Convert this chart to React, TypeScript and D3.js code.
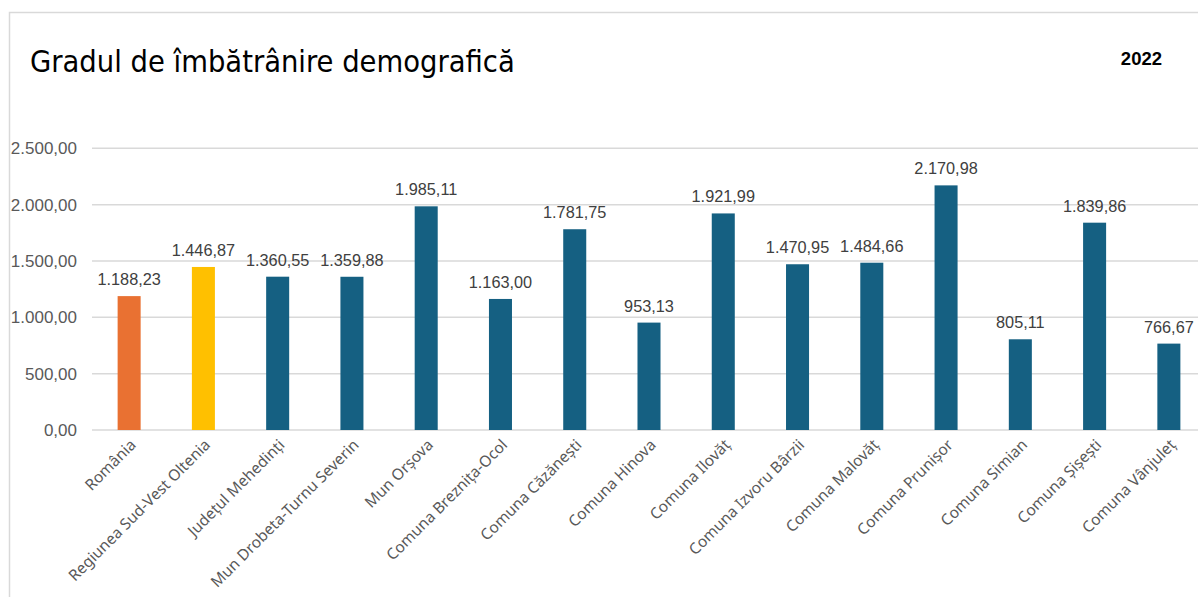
import React from "react";
import * as d3 from "d3";

const categories = [
  "România",
  "Regiunea Sud-Vest Oltenia",
  "Județul Mehedinți",
  "Mun Drobeta-Turnu Severin",
  "Mun Orșova",
  "Comuna Breznița-Ocol",
  "Comuna Căzănești",
  "Comuna Hinova",
  "Comuna Ilovăț",
  "Comuna Izvoru Bârzii",
  "Comuna Malovăț",
  "Comuna Prunișor",
  "Comuna Simian",
  "Comuna Șișești",
  "Comuna Vânjuleț",
];
const values = [
  1188.23, 1446.87, 1360.55, 1359.88, 1985.11, 1163.0, 1781.75, 953.13, 1921.99,
  1470.95, 1484.66, 2170.98, 805.11, 1839.86, 766.67,
];
const barColors = [
  "#E97132", "#FFC000", "#156082", "#156082", "#156082", "#156082", "#156082",
  "#156082", "#156082", "#156082", "#156082", "#156082", "#156082", "#156082", "#156082",
];
const yTicks = [0, 500, 1000, 1500, 2000, 2500];
const title = "Gradul de îmbătrânire demografică";
const yearLabel = "2022";

const W = 1198;
const H = 597;
const plot = { left: 92, right: 1206, top: 148.3, bottom: 430 };

const locale = d3.formatLocale({
  decimal: ",",
  thousands: ".",
  grouping: [3],
  currency: ["", ""],
});
const fmt = locale.format(",.2f");

export default function App() {
  const x = d3
    .scaleBand<string>()
    .domain(categories)
    .range([plot.left, plot.right])
    .paddingInner(0.69)
    .paddingOuter(0.345);
  const y = d3.scaleLinear().domain([0, 2500]).range([plot.bottom, plot.top]);
  const textGray = "#595959";

  return (
    <svg
      width={W}
      height={H}
      style={{ position: "absolute", left: 0, top: 0, background: "#fff" }}
    >
      <rect x={9.5} y={12.5} width={1300} height={700} fill="#fff" stroke="#D9D9D9" strokeWidth={1.5} />
      <text
        x={30}
        y={72}
        fontFamily="'Liberation Sans Narrow', 'DejaVu Sans Condensed', sans-serif"
        fontSize={30.5}
        fill="#000"
      >
        {title}
      </text>
      <text
        x={1162}
        y={65}
        textAnchor="end"
        fontFamily="'Liberation Sans', Arial, sans-serif"
        fontWeight="bold"
        fontSize={18.5}
        fill="#000"
      >
        {yearLabel}
      </text>
      {yTicks.map((t) => (
        <g key={t}>
          <line
            x1={plot.left}
            x2={W}
            y1={y(t)}
            y2={y(t)}
            stroke="#D9D9D9"
            strokeWidth={1.5}
          />
          <text
            x={77}
            y={y(t)}
            dy="0.35em"
            textAnchor="end"
            fontFamily="'Liberation Sans', Arial, sans-serif"
            fontSize={17}
            fill={textGray}
          >
            {fmt(t)}
          </text>
        </g>
      ))}
      {categories.map((c, i) => {
        const bx = x(c)!;
        const bw = x.bandwidth();
        const cx = bx + bw / 2;
        return (
          <g key={c}>
            <rect
              x={bx}
              y={y(values[i])}
              width={bw}
              height={y(0) - y(values[i])}
              fill={barColors[i]}
            />
            <text
              x={cx}
              y={y(values[i]) - 11}
              textAnchor="middle"
              fontFamily="'Liberation Sans', Arial, sans-serif"
              fontSize={16.3}
              fill="#404040"
            >
              {fmt(values[i])}
            </text>
            <text
              transform={`translate(${cx + 4},${plot.bottom + 12}) rotate(-45)`}
              textAnchor="end"
              dy="0.35em"
              fontFamily="'Noto Sans', 'Open Sans', sans-serif"
              fontSize={15.5}
              fill={textGray}
            >
              {c}
            </text>
          </g>
        );
      })}
    </svg>
  );
}
